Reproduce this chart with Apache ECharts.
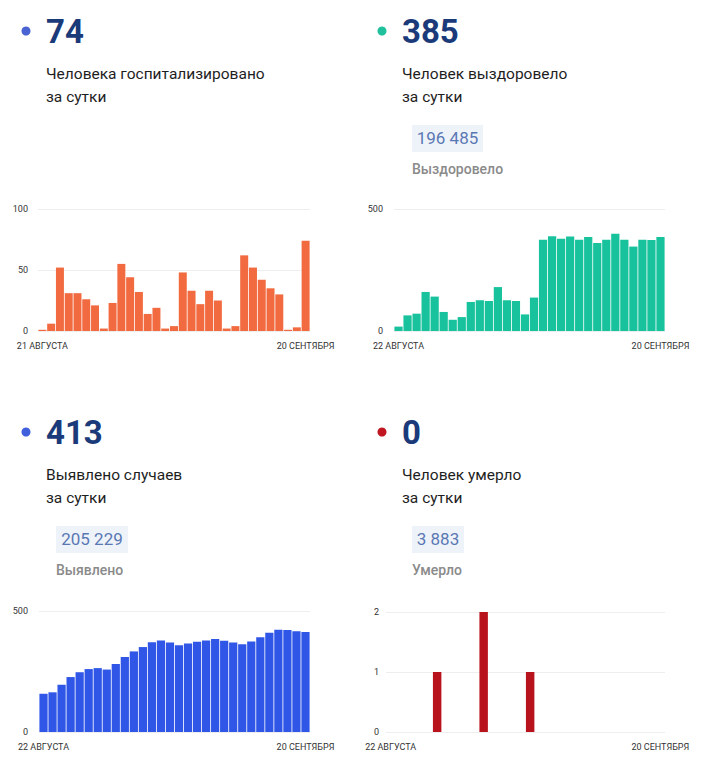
<!DOCTYPE html>
<html>
<head>
<meta charset="utf-8">
<script src="https://cdn.jsdelivr.net/npm/echarts@6/dist/echarts.min.js"></script>
<style>
    html, body { margin: 0; padding: 0; background: #fff; }
    #main { width: 720px; height: 781px; }
</style>
</head>
<body>
<div id="main"></div>
<script>
// даты
var days30 = ['22 АВГУСТА', '23 АВГУСТА', '24 АВГУСТА', '25 АВГУСТА', '26 АВГУСТА', '27 АВГУСТА',
    '28 АВГУСТА', '29 АВГУСТА', '30 АВГУСТА', '31 АВГУСТА', '1 СЕНТЯБРЯ', '2 СЕНТЯБРЯ', '3 СЕНТЯБРЯ',
    '4 СЕНТЯБРЯ', '5 СЕНТЯБРЯ', '6 СЕНТЯБРЯ', '7 СЕНТЯБРЯ', '8 СЕНТЯБРЯ', '9 СЕНТЯБРЯ', '10 СЕНТЯБРЯ',
    '11 СЕНТЯБРЯ', '12 СЕНТЯБРЯ', '13 СЕНТЯБРЯ', '14 СЕНТЯБРЯ', '15 СЕНТЯБРЯ', '16 СЕНТЯБРЯ',
    '17 СЕНТЯБРЯ', '18 СЕНТЯБРЯ', '19 СЕНТЯБРЯ', '20 СЕНТЯБРЯ'];
var days31 = ['21 АВГУСТА'].concat(days30);

// госпитализировано
var hospitalized = [1, 6, 52, 31, 31, 26, 21, 2, 23, 55, 44, 32, 14, 19, 2, 4, 48, 33, 22, 33, 25, 2, 4, 62, 52, 42, 35, 30, 1, 3, 74];
// выздоровело
var recovered = [18, 64, 71, 160, 141, 78, 46, 57, 119, 126, 123, 180, 126, 123, 68, 137,
    374, 388, 378, 387, 374, 385, 361, 374, 399, 374, 346, 374, 373, 385];
// выявлено
var detected = [158, 164, 195, 227, 247, 260, 264, 258, 281, 310, 333, 351, 371, 378, 370, 358,
    366, 373, 378, 384, 377, 370, 363, 374, 392, 410, 423, 421, 416, 413];
// умерло
var died = [0, 0, 0, 0, 0, 1, 0, 0, 0, 0, 2, 0, 0, 0, 0, 1, 0, 0, 0, 0, 0, 0, 0, 0, 0, 0, 0, 0, 0, 0];

var yMax = [100, 500, 500, 2];
var yStep = [50, 500, 500, 1];

var panels = [
    {dot: '#4a63d3', big: '74', line1: 'Человека госпитализировано', total: null, sub: null, x: 46, y: 31},
    {dot: '#1fc19d', big: '385', line1: 'Человек выздоровело', total: '196 485', sub: 'Выздоровело', x: 402, y: 31, bx: 412, bw: 71},
    {dot: '#3f5fdc', big: '413', line1: 'Выявлено случаев', total: '205 229', sub: 'Выявлено', x: 46, y: 432, bx: 56, bw: 72},
    {dot: '#c01622', big: '0', line1: 'Человек умерло', total: '3 883', sub: 'Умерло', x: 402, y: 432, bx: 412, bw: 52}
];

var font = 'Roboto, "Noto Sans", sans-serif';
var graphics = [];
for (var i = 0; i < panels.length; i++) {
    var p = panels[i];
    graphics.push({type: 'circle', shape: {cx: p.x - 20, cy: p.y, r: 4.5}, style: {fill: p.dot}});
    graphics.push({type: 'text', x: p.x, y: p.y, style: {text: p.big, font: 'bold 33px ' + font, fill: '#1b3a7a', verticalAlign: 'middle'}});
    graphics.push({type: 'text', x: p.x, y: p.y + 43, style: {text: p.line1, font: '15.5px ' + font, fill: '#1e1e1e', verticalAlign: 'middle'}});
    graphics.push({type: 'text', x: p.x, y: p.y + 66, style: {text: 'за сутки', font: '15.5px ' + font, fill: '#1e1e1e', verticalAlign: 'middle'}});
    if (p.total) {
        graphics.push({type: 'rect', shape: {x: p.bx, y: p.y + 94, width: p.bw, height: 27}, style: {fill: '#eef3fa'}});
        graphics.push({type: 'text', x: p.bx + p.bw / 2, y: p.y + 107, style: {text: p.total, font: '17px ' + font, fill: '#5a78b3', align: 'center', verticalAlign: 'middle'}});
        graphics.push({type: 'text', x: p.bx, y: p.y + 138, style: {text: p.sub, font: '500 14px ' + font, fill: '#8a8a8a', verticalAlign: 'middle'}});
    }
}

var grids = [
    {left: 38, right: 410, top: 209, bottom: 450},
    {left: 394, right: 55, top: 209, bottom: 450},
    {left: 39, right: 410, top: 611, bottom: 49},
    {left: 386, right: 55, top: 612, bottom: 49}
];
var cats = [days31, days30, days30, days30];
var values = [hospitalized, recovered, detected, died];
var colors = ['#f26a3f', '#17c29c', '#2f56e6', '#b8121c'];
var labelMargin = [10, 11, 11, 7];

var xAxes = [], yAxes = [], series = [];
for (var k = 0; k < 4; k++) {
    (function (n) {
        xAxes.push({
            type: 'category', gridIndex: k, data: cats[k],
            axisLine: {show: false}, axisTick: {show: false},
            axisLabel: {
                interval: function (idx) { return idx === 0 || idx === n - 1; },
                fontSize: 9, color: '#333', fontFamily: font, margin: 10
            }
        });
    })(cats[k].length);
    yAxes.push({
        type: 'value', gridIndex: k, min: 0, max: yMax[k], interval: yStep[k],
        axisLine: {show: false}, axisTick: {show: false},
        axisLabel: {fontSize: 9, color: '#333', fontFamily: font, margin: labelMargin[k]},
        splitLine: {lineStyle: {color: '#eeeeee'}}
    });
    series.push({
        type: 'bar', xAxisIndex: k, yAxisIndex: k, data: values[k],
        barCategoryGap: '9%', itemStyle: {color: colors[k]}, silent: true
    });
}

var myChart = echarts.init(document.getElementById('main'), null, {renderer: 'svg'});
myChart.setOption({
    animation: false,
    grid: grids,
    xAxis: xAxes,
    yAxis: yAxes,
    series: series,
    graphic: graphics
});
</script>
</body>
</html>
